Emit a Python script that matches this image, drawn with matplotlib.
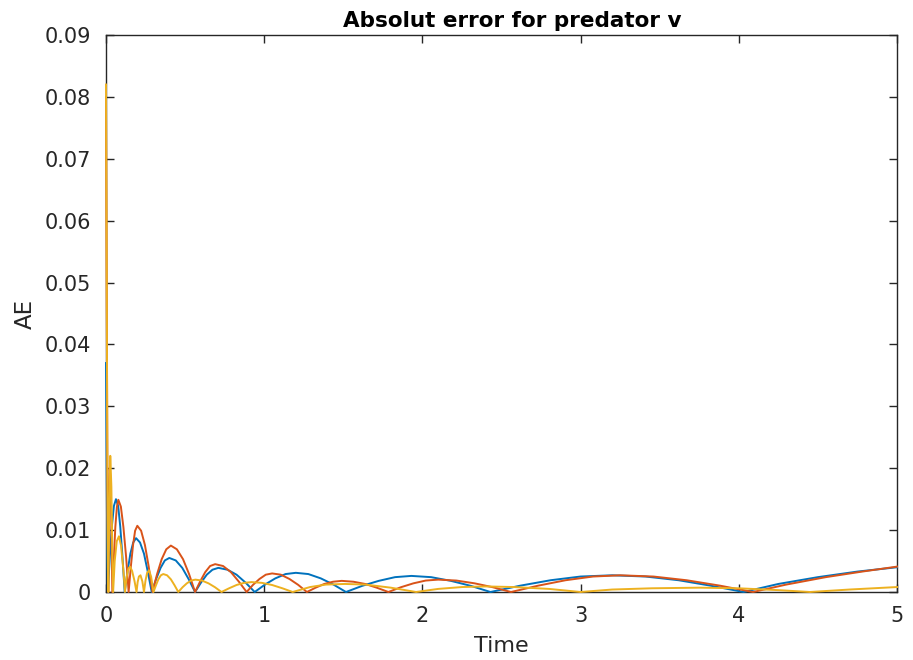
import matplotlib
matplotlib.use("Agg")
import matplotlib.pyplot as plt
from matplotlib.ticker import FixedLocator, FixedFormatter

plt.rcParams['font.family'] = ['DejaVu Sans']

# ---- data ----
blue_t = [0, 0.004, 0.008, 0.012,
          0.024, 0.037, 0.05, 0.063, 0.077, 0.09, 0.104, 0.118,
          0.136, 0.154, 0.172, 0.19, 0.215, 0.240, 0.264, 0.289,
          0.317, 0.345, 0.372, 0.40, 0.441, 0.482, 0.522, 0.563,
          0.60, 0.637, 0.673, 0.71, 0.768, 0.825, 0.883, 0.94,
          1.005, 1.07, 1.135, 1.2, 1.279, 1.358, 1.438, 1.517,
          1.62, 1.724, 1.827, 1.93, 2.055, 2.18, 2.305, 2.43,
          2.62, 2.81, 3.0, 3.2, 3.41, 3.62, 3.82, 4.03,
          4.25, 4.5, 4.75, 5.0]
blue_v = [0.037, 0.02, 0.006, 0.0,
          0.0057, 0.0106, 0.0139, 0.015, 0.0139, 0.0106, 0.0057, 0.0,
          0.0033, 0.0062, 0.0080, 0.0087, 0.0080, 0.0062, 0.0033, 0.0,
          0.0021, 0.0039, 0.0051, 0.0055, 0.0051, 0.0039, 0.0021, 0.0,
          0.0015, 0.0028, 0.0036, 0.0039, 0.0036, 0.0028, 0.0015, 0.0,
          0.0012, 0.0022, 0.0029, 0.0031, 0.0029, 0.0022, 0.0012, 0.0,
          0.0010, 0.0018, 0.0024, 0.0026, 0.0024, 0.0018, 0.0010, 0.0,
          0.00103, 0.0019, 0.0025, 0.0027, 0.0025, 0.0019, 0.00103, 0.0,
          0.0013, 0.0024, 0.0033, 0.0040]

orange_t = [0, 0.005, 0.01, 0.014, 0.018, 0.024, 0.03, 0.036, 0.04,
            0.05, 0.059, 0.069, 0.078, 0.094, 0.11, 0.127, 0.143,
            0.157, 0.171, 0.184, 0.198, 0.222, 0.246, 0.27, 0.294,
            0.323, 0.352, 0.381, 0.41, 0.448, 0.487, 0.525, 0.563,
            0.595, 0.627, 0.658, 0.69, 0.74, 0.79, 0.839, 0.889,
            0.929, 0.97, 1.01, 1.05, 1.105, 1.16, 1.215, 1.27,
            1.325, 1.38, 1.435, 1.49, 1.564, 1.638, 1.711, 1.785,
            1.864, 1.943, 2.021, 2.1, 2.215, 2.33, 2.445, 2.56,
            2.733, 2.905, 3.078, 3.25, 3.46, 3.67, 3.88, 4.09,
            4.3, 4.55, 4.78, 5.0]
orange_v = [0.08, 0.045, 0.012, 0.0, 0.012, 0.02, 0.017, 0.007, 0.0,
            0.0057, 0.0105, 0.0138, 0.0149, 0.0138, 0.0105, 0.0057, 0.0,
            0.0041, 0.0076, 0.0099, 0.0107, 0.0099, 0.0076, 0.0041, 0.0,
            0.0029, 0.0053, 0.0069, 0.0075, 0.0069, 0.0053, 0.0029, 0.0,
            0.0017, 0.0032, 0.0042, 0.0045, 0.0042, 0.0032, 0.0017, 0.0,
            0.00115, 0.0021, 0.0028, 0.0030, 0.0028, 0.0021, 0.00115, 0.0,
            0.0007, 0.0013, 0.00166, 0.0018, 0.00166, 0.0013, 0.0007, 0.0,
            0.00077, 0.0014, 0.00185, 0.0020, 0.00185, 0.0014, 0.00077, 0.0,
            0.00103, 0.0019, 0.0025, 0.0027, 0.0025, 0.0019, 0.00103, 0.0,
            0.0012, 0.0024, 0.0033, 0.0041]

yellow_t = [0, 0.004, 0.008, 0.012, 0.015, 0.02, 0.027, 0.034, 0.04, 0.045,
            0.055, 0.068, 0.082, 0.095, 0.11, 0.12,
            0.13, 0.142, 0.152, 0.165, 0.18, 0.193,
            0.2, 0.208, 0.218, 0.23, 0.24,
            0.25, 0.26, 0.272, 0.285, 0.3,
            0.316, 0.331, 0.347, 0.362, 0.386, 0.41, 0.433, 0.457,
            0.484, 0.511, 0.538, 0.565, 0.606, 0.648, 0.689, 0.73,
            0.778, 0.825, 0.873, 0.92, 0.985, 1.05, 1.115, 1.18,
            1.29, 1.39, 1.51, 1.64, 1.8, 1.96,
            2.1, 2.25, 2.4, 2.58, 2.8, 3.0,
            3.2, 3.45, 3.75, 4.0, 4.25, 4.45,
            4.7, 5.0]
yellow_v = [0.082, 0.055, 0.025, 0.004, 0.0, 0.012, 0.022, 0.017, 0.006, 0.0,
            0.005, 0.0082, 0.009, 0.0075, 0.0035, 0.0,
            0.0024, 0.0038, 0.0041, 0.0034, 0.0018, 0.0,
            0.0016, 0.0025, 0.0027, 0.0017, 0.0,
            0.0019, 0.0031, 0.0035, 0.0025, 0.0,
            0.0011, 0.00205, 0.0027, 0.0029, 0.0027, 0.00205, 0.0011, 0.0,
            0.00077, 0.0014, 0.00185, 0.0020, 0.00185, 0.0014, 0.00077, 0.0,
            0.0006, 0.00113, 0.00148, 0.0016, 0.00148, 0.00113, 0.0006, 0.0,
            0.0008, 0.0012, 0.0013, 0.0012, 0.0007, 0.0,
            0.0005, 0.0008, 0.0009, 0.0008, 0.0005, 0.0,
            0.0004, 0.0006, 0.0007, 0.0006, 0.0003, 0.0,
            0.0004, 0.0008]

x_ticks = [0, 1, 2, 3, 4, 5]
x_labels = ['0', '1', '2', '3', '4', '5']
y_ticks = [0, 0.01, 0.02, 0.03, 0.04, 0.05, 0.06, 0.07, 0.08, 0.09]
y_labels = ['0', '0.01', '0.02', '0.03', '0.04', '0.05', '0.06', '0.07', '0.08', '0.09']

title = 'Absolut error for predator v'
xlabel = 'Time'
ylabel = 'AE'

# ---- figure ----
fig = plt.figure(figsize=(9.13, 6.60), dpi=100)
ax = fig.add_axes([106/913, 1 - 592/660, (897 - 106)/913, (592 - 35)/660])

lw = 1.4
ax.plot(blue_t, blue_v, color='#0072BD', lw=lw, zorder=3, clip_on=False)
ax.plot(orange_t, orange_v, color='#D95319', lw=lw, zorder=3, clip_on=False)
ax.plot(yellow_t, yellow_v, color='#EDB120', lw=lw, zorder=3, clip_on=False)

ax.set_xlim(0, 5)
ax.set_ylim(0, 0.09)
ax.xaxis.set_major_locator(FixedLocator(x_ticks))
ax.xaxis.set_major_formatter(FixedFormatter(x_labels))
ax.yaxis.set_major_locator(FixedLocator(y_ticks))
ax.yaxis.set_major_formatter(FixedFormatter(y_labels))

axcol = '#262626'
for s in ax.spines.values():
    s.set_color(axcol)
    s.set_linewidth(1.0)
ax.tick_params(direction='in', length=6, width=1.0, colors=axcol,
               labelsize=15, top=True, right=True)
ax.tick_params(axis='x', pad=10)
ax.tick_params(axis='y', pad=11)

ax.set_title(title, fontsize=15.5, fontweight='bold', color='black', pad=6,
             x=0.514)
ax.set_xlabel(xlabel, fontsize=16, color=axcol, labelpad=7)
ax.set_ylabel(ylabel, fontsize=16.5, color=axcol, labelpad=5)

fig.savefig('out.png', dpi=100)
